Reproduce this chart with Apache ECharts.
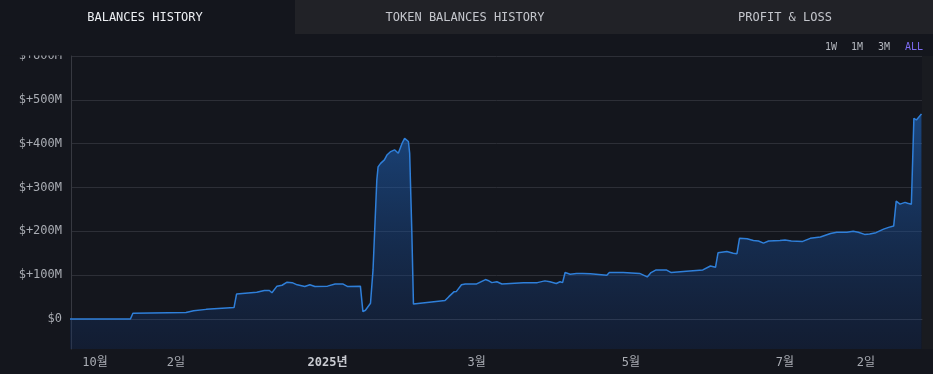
<!DOCTYPE html>
<html>
<head>
<meta charset="utf-8">
<script src="https://cdn.jsdelivr.net/npm/echarts@6/dist/echarts.min.js"></script>
<style>
  html, body { margin: 0; padding: 0; background: #14161d; }
  #chart { width: 933px; height: 374px; }
</style>
</head>
<body>
<div id="chart"></div>
<script>
// ---- data (values in millions of USD) ----
const dates = [
  '2024-09-21','2024-10-15','2024-10-16','2024-11-06','2024-11-09','2024-11-14','2024-11-25','2024-11-26',
  '2024-12-04','2024-12-07','2024-12-09','2024-12-10','2024-12-12','2024-12-14','2024-12-16','2024-12-18',
  '2024-12-20','2024-12-23','2024-12-25','2024-12-27','2025-01-01','2025-01-04','2025-01-07','2025-01-09',
  '2025-01-14','2025-01-15','2025-01-16','2025-01-18','2025-01-19','2025-01-20 12:00','2025-01-21','2025-01-22',
  '2025-01-23 12:00','2025-01-24 12:00','2025-01-26','2025-01-27 12:00','2025-01-29','2025-01-30 12:00','2025-01-31 12:00','2025-02-02',
  '2025-02-02 12:00','2025-02-03 08:00','2025-02-04','2025-02-16 12:00','2025-02-18','2025-02-20','2025-02-21','2025-02-23',
  '2025-02-24 12:00','2025-03-01','2025-03-04 12:00','2025-03-05 12:00','2025-03-07','2025-03-09','2025-03-11','2025-03-19 12:00',
  '2025-03-25','2025-03-28','2025-03-30','2025-04-01 12:00','2025-04-03','2025-04-04','2025-04-05','2025-04-07',
  '2025-04-09 12:00','2025-04-12','2025-04-15','2025-04-21 12:00','2025-04-22 12:00','2025-04-28','2025-05-04 12:00','2025-05-07 12:00',
  '2025-05-09','2025-05-11','2025-05-15','2025-05-17','2025-05-23','2025-05-29 12:00','2025-06-01 12:00','2025-06-03 12:00',
  '2025-06-04 12:00','2025-06-08','2025-06-10 12:00','2025-06-12','2025-06-13','2025-06-16','2025-06-18 12:00','2025-06-20 12:00',
  '2025-06-22 12:00','2025-06-24 12:00','2025-06-29','2025-07-01','2025-07-03 12:00','2025-07-08','2025-07-11','2025-07-15',
  '2025-07-19','2025-07-21 12:00','2025-07-25 12:00','2025-07-28','2025-07-30','2025-08-01 12:00','2025-08-03 12:00','2025-08-06',
  '2025-08-09','2025-08-11','2025-08-13','2025-08-14','2025-08-15 12:00','2025-08-17 12:00','2025-08-18 12:00','2025-08-20',
  '2025-08-21','2025-08-22','2025-08-24'
];
const balances = [
  0, 0, 13, 15, 19, 22, 26, 57,
  61, 65, 65, 60, 75, 77, 84, 83,
  78, 74, 78, 74, 75, 80, 80, 74,
  75, 17, 20, 36, 112, 317, 347, 355,
  363, 374, 382, 386, 378, 401, 412, 405,
  378, 203, 34, 42, 51, 62, 63, 78,
  80, 80, 90, 88, 83, 85, 80, 83,
  83, 87, 85, 81, 85, 83, 106, 102,
  104, 104, 103, 100, 106, 106, 104, 96,
  106, 112, 112, 106, 109, 112, 121, 118,
  151, 154, 150, 149, 184, 183, 179, 178,
  173, 178, 179, 180, 178, 177, 184, 187,
  195, 198, 198, 200, 198, 193, 194, 197,
  205, 209, 212, 269, 262, 266, 264, 262,
  458, 454, 468
];
const yTicks = [0, 100, 200, 300, 400, 500, 600];
const xTickDates = ['2024-10-01','2024-11-02','2025-01-01','2025-03-01','2025-05-01','2025-07-01','2025-08-02'];
const xTickLabels = ['10월','2일','2025년','3월','5월','7월','2일'];
const tabs = ['BALANCES HISTORY','TOKEN BALANCES HISTORY','PROFIT & LOSS'];
const ranges = ['1W','1M','3M','ALL'];

// ---- build ----
function toTs(s) {
  const m = s.match(/^(\d+)-(\d+)-(\d+)(?:[ T](\d+):(\d+))?$/);
  return Date.UTC(+m[1], +m[2] - 1, +m[3], m[4] ? +m[4] : 0, m[5] ? +m[5] : 0);
}
const xTickTs = xTickDates.map(toTs);
const seriesData = dates.map((d, i) => [toTs(d), balances[i]]);
const MONO = "'DejaVu Sans Mono', 'Noto Sans CJK KR', monospace";
const BG = '#14161d';

const chart = echarts.init(document.getElementById('chart'), null, { renderer: 'canvas' });

const tabCenters = [145, 465, 785];
const rangeX = [831, 857, 884, 914];

const graphic = [
  { type: 'rect', z: 100, shape: { x: 295, y: 0, width: 638, height: 34 }, style: { fill: '#212227' } },
  { type: 'rect', z: 100, shape: { x: 0, y: 34, width: 70, height: 21.5 }, style: { fill: BG } },
  { type: 'rect', z: -1, shape: { x: 922, y: 56, width: 11, height: 293 }, style: { fill: '#191b20' } }
];
tabs.forEach((t, i) => graphic.push({
  type: 'text', z: 101, x: tabCenters[i], y: 18,
  style: { text: t, fill: i === 0 ? '#eceef2' : '#c4c6cc', font: "12px " + MONO, textAlign: 'center', textVerticalAlign: 'middle' }
}));
ranges.forEach((t, i) => graphic.push({
  type: 'text', z: 101, x: rangeX[i], y: 47,
  style: { text: t, fill: t === 'ALL' ? '#7d6cf2' : '#b4b7be', font: "10px " + MONO, textAlign: 'center', textVerticalAlign: 'middle' }
}));

chart.setOption({
  backgroundColor: BG,
  animation: false,
  graphic: graphic,
  grid: { left: 71, right: 11, top: 56, bottom: 25, containLabel: false },
  xAxis: {
    type: 'value',
    min: toTs('2024-09-21 12:00'),
    max: toTs('2025-08-24 05:00'),
    axisLine: { show: true, lineStyle: { color: '#373941', width: 1 } },
    axisTick: { show: false, customValues: xTickTs },
    splitLine: { show: false },
    axisLabel: {
      customValues: xTickTs,
      color: '#a9acb3',
      fontFamily: MONO,
      fontSize: 12,
      margin: 8,
      formatter: function (v) {
        const idx = xTickTs.indexOf(v);
        const lab = idx >= 0 ? xTickLabels[idx] : '';
        return lab === '2025년' ? '{b|' + lab + '}' : lab;
      },
      rich: { b: { fontWeight: 'bold', color: '#c9cbd1', fontFamily: MONO, fontSize: 12 } }
    }
  },
  yAxis: {
    type: 'value',
    min: -68.4,
    max: 600,
    axisLine: { show: true, lineStyle: { color: '#373941', width: 1 } },
    axisTick: { show: false, customValues: yTicks },
    splitLine: { show: true, lineStyle: { color: '#2d2f37', width: 1 } },
    axisLabel: {
      customValues: yTicks,
      color: '#a9acb3',
      fontFamily: MONO,
      fontSize: 12,
      margin: 9,
      formatter: v => v === 0 ? '$0' : '$+' + v + 'M'
    }
  },
  series: [{
    type: 'line',
    data: seriesData,
    showSymbol: false,
    symbol: 'none',
    smooth: false,
    lineStyle: { color: '#2f7fd9', width: 1.5 },
    areaStyle: {
      origin: 'start',
      color: new echarts.graphic.LinearGradient(0, 0, 0, 1, [
        { offset: 0, color: 'rgba(33,118,222,0.72)' },
        { offset: 1, color: 'rgba(15,45,100,0.42)' }
      ])
    }
  }]
});
</script>
</body>
</html>
